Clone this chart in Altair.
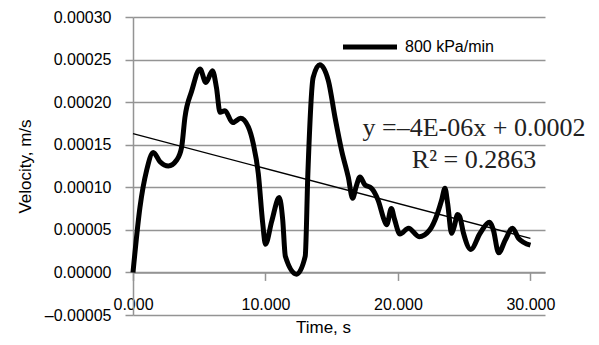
import altair as alt
import pandas as pd

# Velocity series (time in s, velocity in m/s)
time_s = [0.0, 0.53, 1.03, 1.53, 2.04, 2.67, 3.3, 3.67, 3.92, 4.43, 5.06, 5.5, 6.0, 6.3, 6.57, 6.94,
          7.52, 8.12, 8.7, 9.08, 9.46, 9.79, 10.0, 10.47, 11.04, 11.3, 11.5, 12.35, 13.0, 13.2, 13.6,
          14.1, 14.75, 15.25, 15.75, 16.25, 16.58, 16.83, 17.13, 17.5, 18.0, 18.5, 19.0, 19.15, 19.5,
          19.75, 20.15, 20.8, 21.6, 22.4, 23.0, 23.3, 23.55, 23.75, 24.05, 24.25, 24.5, 24.65, 24.95,
          25.5, 26.2, 26.9, 27.2, 27.6, 28.1, 28.65, 29.1, 30.0]
velocity = [0.0, 0.000077, 0.000120, 0.000141, 0.000130, 0.000125, 0.000132, 0.000147, 0.000182,
            0.000213, 0.000239, 0.000223, 0.000237, 0.000217, 0.000188, 0.000190, 0.000176, 0.000181,
            0.000171, 0.000151, 0.000116, 0.000058, 0.000033, 0.000060, 0.000088, 0.000062, 0.000019,
            -0.000002, 0.000019, 0.000116, 0.000229, 0.000244, 0.000225, 0.000182, 0.000143, 0.000112,
            0.000087, 0.000100, 0.000112, 0.000103, 0.000099, 0.000085, 0.000060, 0.000056, 0.000075,
            0.000062, 0.000045, 0.000052, 0.000042, 0.000050, 0.000070, 0.000085, 0.000099, 0.000081,
            0.000046, 0.000054, 0.000068, 0.000066, 0.000046, 0.000027, 0.000046, 0.000059, 0.000050,
            0.000023, 0.000038, 0.000052, 0.000040, 0.000032]

# Linear trendline end points
trend_t = [0.0, 30.0]
trend_v = [0.000163, 0.000040]

series_name = ["800 kPa/min"]
equation_line1 = ["y =\u20134E-06x + 0.0002"]
equation_line2 = ["R\u00b2 = 0.2863"]

x_ticks = [0, 10, 20, 30]
y_ticks = [-0.00005, 0.0, 0.00005, 0.0001, 0.00015, 0.0002, 0.00025, 0.0003]

GRAY = "#949494"
FONT = "Liberation Sans"

df = pd.DataFrame({"t": time_s, "v": velocity})
tr = pd.DataFrame({"t": trend_t, "v": trend_v})

xscale = alt.Scale(domain=[0, 31.1], nice=False, zero=False)
yscale = alt.Scale(domain=[-0.00005, 0.0003], nice=False)

x_axis = alt.Axis(values=x_ticks, format=".3f", title="Time, s", grid=False,
                  offset=-42.6, domainColor=GRAY, domainWidth=1.5, tickColor=GRAY,
                  tickWidth=1.5, tickSize=8, labelPadding=16, labelFontSize=16,
                  labelFont=FONT, labelColor="black", labelFlush=False,
                  titleFont=FONT, titleFontSize=17, titleColor="black",
                  titleFontWeight="normal", titlePadding=7, titleX=190)
y_axis = alt.Axis(values=y_ticks, format=".5f", title="Velocity, m/s", grid=True,
                  gridColor=GRAY, gridWidth=1.5, domainColor=GRAY, domainWidth=1.5,
                  tickColor=GRAY, tickWidth=1.5, tickSize=8, labelPadding=14,
                  labelFontSize=16, labelFont=FONT, labelColor="black",
                  titleFont=FONT, titleFontSize=17, titleColor="black",
                  titleFontWeight="normal", titlePadding=10,
                  labelExpr="replace(datum.label, '\u2212', '\u2013')")

line = alt.Chart(df).mark_line(color="black", strokeWidth=5, interpolate="monotone").encode(
    x=alt.X("t:Q", scale=xscale, axis=x_axis, title="Time, s"),
    y=alt.Y("v:Q", scale=yscale, axis=y_axis, title="Velocity, m/s"),
)

trend = alt.Chart(tr).mark_line(color="black", strokeWidth=1.3).encode(
    x=alt.X("t:Q", scale=xscale, axis=x_axis, title="Time, s"),
    y=alt.Y("v:Q", scale=yscale, axis=y_axis, title="Velocity, m/s"),
)

legend_df = pd.DataFrame({"name": series_name})
legend_line = alt.Chart(legend_df).mark_rule(color="black", strokeWidth=5).encode(
    x=alt.value(210), x2=alt.value(264), y=alt.value(30)
)
legend_text = alt.Chart(legend_df).mark_text(
    align="left", baseline="middle", font=FONT, fontSize=16, color="black"
).encode(x=alt.value(272), y=alt.value(30), text="name:N")

eq1 = alt.Chart(pd.DataFrame({"line": equation_line1})).mark_text(
    align="center", baseline="middle", font="Liberation Serif", fontSize=26, color="#222222"
).encode(x=alt.value(341), y=alt.value(111), text="line:N")
eq2 = alt.Chart(pd.DataFrame({"line": equation_line2})).mark_text(
    align="center", baseline="middle", font="Liberation Serif", fontSize=26, color="#222222"
).encode(x=alt.value(341), y=alt.value(143), text="line:N")

chart = alt.layer(line, trend, legend_line, legend_text, eq1, eq2).properties(
    width=412, height=298,
    autosize=alt.AutoSizeParams(type="none"),
    padding={"left": 125, "top": 9, "right": 46, "bottom": 22},
).configure_view(stroke=None)

chart.save("out.html", embed_options={"renderer": "svg", "actions": False})
